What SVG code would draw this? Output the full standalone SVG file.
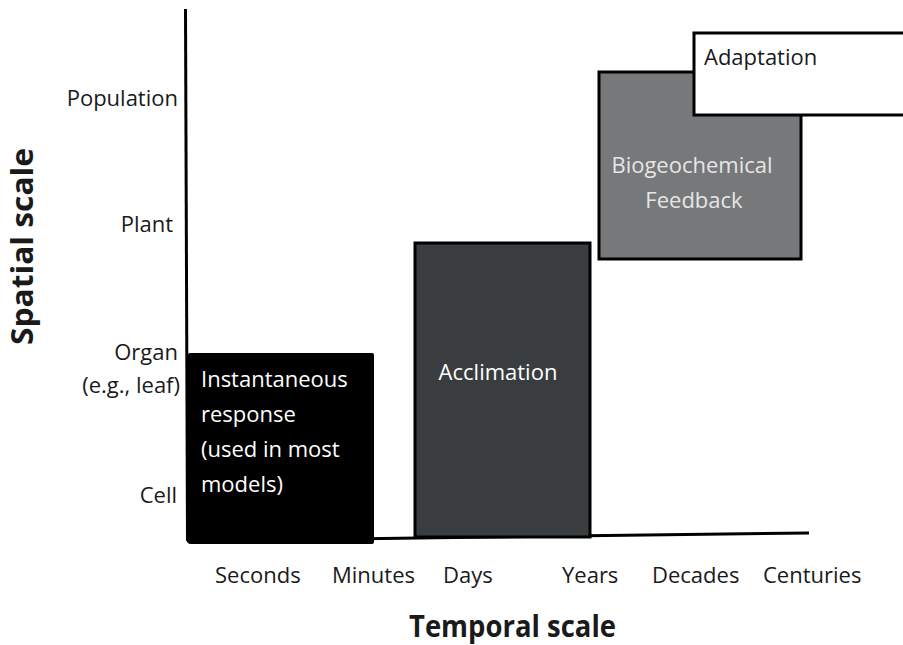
<svg xmlns="http://www.w3.org/2000/svg" width="903" height="645" viewBox="0 0 903 645">
<style>
text{font-family:"Open Sans","Noto Sans","Liberation Sans",sans-serif;font-size:22px;fill:#1a1a1a}
.w{fill:#ffffff}
.g{fill:#e6e6e6}
.b{font-weight:bold;font-size:30px}
.r{text-anchor:end}
.m{text-anchor:middle}
.box{stroke:#000;stroke-width:3}
</style>
<rect width="903" height="645" fill="#fff"/>
<g id="axes" fill="none" stroke="#000" stroke-width="3">
<path d="M185.5 9 L187.5 541"/>
<path d="M187 541 L809 533"/>
</g>
<g id="instantaneous">
<rect x="188" y="353" width="186" height="191" fill="#000" rx="2"/>
<text class="w" x="201" y="387">Instantaneous</text>
<text class="w" x="201" y="422">response</text>
<text class="w" x="201" y="457">(used in most</text>
<text class="w" x="201" y="492">models)</text>
</g>
<g id="acclimation">
<rect class="box" x="415" y="243" width="175" height="294" fill="#3a3d40"/>
<text class="w m" x="498" y="380">Acclimation</text>
</g>
<g id="biogeochemical">
<rect class="box" x="599" y="72" width="202" height="187" fill="#77787a"/>
<text class="g m" x="692" y="173">Biogeochemical</text>
<text class="g m" x="694" y="208">Feedback</text>
</g>
<g id="adaptation">
<rect class="box" x="694" y="33" width="215" height="82" fill="#fff"/>
<text x="704" y="65">Adaptation</text>
</g>
<g id="y-labels">
<text class="r" x="178" y="106">Population</text>
<text class="r" x="173" y="232">Plant</text>
<text class="r" x="178" y="360">Organ</text>
<text class="r" x="180" y="393">(e.g., leaf)</text>
<text class="r" x="177" y="503">Cell</text>
</g>
<g id="x-labels">
<text x="215" y="583">Seconds</text>
<text x="332" y="583">Minutes</text>
<text x="443" y="583">Days</text>
<text x="562" y="583">Years</text>
<text x="652" y="583">Decades</text>
<text x="763" y="583">Centuries</text>
</g>
<text class="b" x="409" y="637" textLength="207" lengthAdjust="spacingAndGlyphs">Temporal scale</text>
<text class="b" transform="translate(33 345) rotate(-90)" x="0" y="0" textLength="197" lengthAdjust="spacingAndGlyphs">Spatial scale</text>
</svg>
